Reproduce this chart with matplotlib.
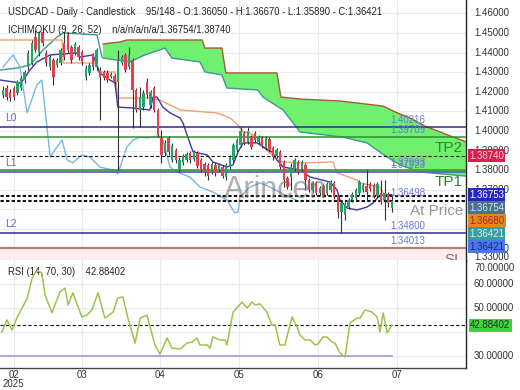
import numpy as np
import matplotlib
matplotlib.use('Agg')
import matplotlib.pyplot as plt
from matplotlib.transforms import blended_transform_factory, offset_copy

plt.rcParams['font.family'] = ['Liberation Sans', 'DejaVu Sans']

# ---------------- data ----------------
opens = [1.4184, 1.4219, 1.4199, 1.4219, 1.4194, 1.4219, 1.4260, 1.4326, 1.4347, 1.4479,
         1.4398, 1.4505, 1.4398, 1.4326, 1.4362, 1.4337, 1.4347, 1.4449, 1.4490, 1.4428,
         1.4398, 1.4428, 1.4403, 1.4275, 1.4296, 1.4388, 1.4326, 1.4311, 1.4301, 1.4296,
         1.4275, 1.4280, 1.4250, 1.4347, 1.4388, 1.4326, 1.4362, 1.4209, 1.4107, 1.4122,
         1.4250, 1.4133, 1.4219, 1.4107, 1.3964, 1.3888, 1.3964, 1.3852, 1.3903, 1.3801,
         1.3837, 1.3852, 1.3888, 1.3857, 1.3888, 1.3852, 1.3832, 1.3827, 1.3791, 1.3827,
         1.3801, 1.3816, 1.3765, 1.3816, 1.3852, 1.3903, 1.3929, 1.3990, 1.3944, 1.3969,
         1.3990, 1.3944, 1.3964, 1.3913, 1.3959, 1.3913, 1.3872, 1.3893, 1.3842, 1.3760,
         1.3765, 1.3806, 1.3842, 1.3806, 1.3827, 1.3750, 1.3699, 1.3735, 1.3684, 1.3719,
         1.3684, 1.3699, 1.3735, 1.3668, 1.3587, 1.3571, 1.3612, 1.3648, 1.3658, 1.3684,
         1.3699, 1.3719, 1.3730, 1.3725, 1.3668, 1.3684, 1.3648, 1.3679, 1.3605]
closes = [1.4209, 1.4173, 1.4168, 1.4173, 1.4250, 1.4270, 1.4301, 1.4398, 1.4449, 1.4413,
          1.4500, 1.4449, 1.4347, 1.4377, 1.4275, 1.4362, 1.4413, 1.4377, 1.4413, 1.4362,
          1.4444, 1.4377, 1.4352, 1.4321, 1.4337, 1.4326, 1.4413, 1.4275, 1.4270, 1.4260,
          1.4291, 1.4250, 1.4362, 1.4377, 1.4311, 1.4388, 1.4209, 1.4107, 1.4173, 1.4194,
          1.4184, 1.4199, 1.4107, 1.3980, 1.3878, 1.3939, 1.3893, 1.3923, 1.3852, 1.3852,
          1.3872, 1.3883, 1.3852, 1.3893, 1.3821, 1.3801, 1.3786, 1.3770, 1.3832, 1.3786,
          1.3827, 1.3770, 1.3827, 1.3867, 1.3929, 1.3954, 1.4000, 1.3939, 1.4000, 1.3918,
          1.3954, 1.3969, 1.3923, 1.3964, 1.3903, 1.3867, 1.3903, 1.3816, 1.3750, 1.3714,
          1.3816, 1.3852, 1.3791, 1.3842, 1.3750, 1.3699, 1.3735, 1.3684, 1.3709, 1.3674,
          1.3730, 1.3740, 1.3663, 1.3587, 1.3633, 1.3628, 1.3648, 1.3679, 1.3699, 1.3740,
          1.3725, 1.3689, 1.3704, 1.3668, 1.3730, 1.3638, 1.3684, 1.3633, 1.36421]
highs = [1.4229, 1.4235, 1.4214, 1.4229, 1.4260, 1.4280, 1.4311, 1.4413, 1.4464, 1.4515,
         1.4510, 1.4525, 1.4413, 1.4388, 1.4372, 1.4372, 1.4423, 1.4505, 1.4505, 1.4438,
         1.4454, 1.4438, 1.4413, 1.4337, 1.4347, 1.4398, 1.4423, 1.4326, 1.4311, 1.4311,
         1.4301, 1.4291, 1.4413, 1.4388, 1.4398, 1.4428, 1.4372, 1.4219, 1.4224, 1.4209,
         1.4270, 1.4209, 1.4229, 1.4117, 1.4005, 1.3954, 1.3974, 1.3939, 1.3913, 1.3867,
         1.3883, 1.3893, 1.3898, 1.3903, 1.3898, 1.3862, 1.3842, 1.3837, 1.3842, 1.3837,
         1.3837, 1.3827, 1.3837, 1.3878, 1.3939, 1.3964, 1.4020, 1.4000, 1.4020, 1.3980,
         1.4000, 1.3980, 1.3974, 1.3974, 1.3969, 1.3923, 1.3913, 1.3903, 1.3852, 1.3770,
         1.3837, 1.3862, 1.3852, 1.3852, 1.3837, 1.3760, 1.3745, 1.3745, 1.3719, 1.3730,
         1.3740, 1.3750, 1.3745, 1.3679, 1.3648, 1.3638, 1.3658, 1.3689, 1.3709, 1.3750,
         1.3735, 1.3801, 1.3740, 1.3735, 1.3740, 1.3750, 1.3750, 1.3689, 1.3667]
lows = [1.4168, 1.4158, 1.4153, 1.4158, 1.4184, 1.4209, 1.4245, 1.4311, 1.4337, 1.4403,
        1.4382, 1.4433, 1.4331, 1.4311, 1.4235, 1.4326, 1.4337, 1.4362, 1.4398, 1.4347,
        1.4388, 1.4362, 1.4337, 1.4260, 1.4286, 1.4311, 1.4311, 1.4056, 1.4260, 1.4250,
        1.4270, 1.4240, 1.3801, 1.4337, 1.4301, 1.4316, 1.4015, 1.4097, 1.4020, 1.4107,
        1.4168, 1.4117, 1.4097, 1.3969, 1.3837, 1.3872, 1.3878, 1.3842, 1.3837, 1.3791,
        1.3827, 1.3842, 1.3837, 1.3847, 1.3811, 1.3791, 1.3770, 1.3750, 1.3781, 1.3770,
        1.3791, 1.3760, 1.3750, 1.3806, 1.3842, 1.3893, 1.3918, 1.3929, 1.3934, 1.3908,
        1.3944, 1.3934, 1.3913, 1.3903, 1.3893, 1.3852, 1.3862, 1.3806, 1.3714, 1.3704,
        1.3699, 1.3796, 1.3781, 1.3796, 1.3699, 1.3689, 1.3689, 1.3674, 1.3674, 1.3663,
        1.3674, 1.3689, 1.3653, 1.3556, 1.3480, 1.3546, 1.3602, 1.3638, 1.3648, 1.3674,
        1.3689, 1.3648, 1.3694, 1.3658, 1.3658, 1.3628, 1.3546, 1.3612, 1.3589]

month_pos = [3, 22, 43.5, 65.5, 87.5, 109.5]
month_labels = ['02\n2025', '03', '04', '05', '06', '07']

tenkan_x = [-0.8, 4.7, 5.6, 7.5, 9.4, 13.1, 20.6, 21.4, 25, 26.9, 29.7, 31.1, 31.9, 36.1,
            40.8, 41.7, 42.8, 44.4, 46.4, 49.2, 50, 51.9, 52.8, 56.7, 58.3, 62.2, 63.9,
            65.3, 66.7, 70.6, 72.8, 74.7, 76.1, 77.8, 82.5, 85.3, 90.8, 92.8, 93.6, 95.6,
            98.3, 101.1, 102.8, 104.2, 105.6, 108]
tenkan_y = [1.4260, 1.4245, 1.4260, 1.4311, 1.4352, 1.4388, 1.4398, 1.4377, 1.4388, 1.4296,
            1.4260, 1.4245, 1.4122, 1.4117, 1.4107, 1.4173, 1.4173, 1.4122, 1.4092, 1.4066,
            1.4041, 1.3939, 1.3893, 1.3878, 1.3842, 1.3816, 1.3827, 1.3893, 1.3939, 1.3939,
            1.3913, 1.3893, 1.3852, 1.3816, 1.3801, 1.3765, 1.3740, 1.3699, 1.3648, 1.3607,
            1.3597, 1.3612, 1.3633, 1.3663, 1.3674, 1.36753]

kijun_x = [-0.8, 16.4, 16.7, 26.1, 26.4, 31.1, 31.9, 40.8, 43.6, 49.2, 59.4, 63.1, 65.3,
           66.7, 68.6, 70.6, 72.2, 74.2, 76.1, 77.8, 83.3, 91.7, 92.8, 94.4, 98.3, 99.2,
           104.7, 105.6, 108]
kijun_y = [1.4464, 1.4464, 1.4347, 1.4347, 1.4301, 1.4301, 1.4168, 1.4168, 1.4158, 1.4107,
           1.4092, 1.4066, 1.4030, 1.3995, 1.3990, 1.3964, 1.3918, 1.3888, 1.3852, 1.3842,
           1.3837, 1.3842, 1.3786, 1.3776, 1.3750, 1.3735, 1.3714, 1.3684, 1.3668]

chikou_x = [0, 2.8, 4.7, 6.7, 9.4, 10.8, 13.1, 14.4, 16.4, 17.8, 19.4, 21.9, 24.2, 26.9,
            30.6, 31.9, 34.4, 36.1, 38.1, 40, 42.8, 44.4, 46.4, 48.3, 51.9, 54.7, 58.3,
            62.2, 64.4, 65.3, 65.8, 68.6, 71.4, 74.2, 78.3, 82]
chikou_y = [1.4326, 1.4388, 1.4326, 1.4092, 1.4235, 1.4260, 1.3867, 1.3903, 1.3954, 1.3852,
            1.3837, 1.3878, 1.3867, 1.3816, 1.3801, 1.3781, 1.3918, 1.3954, 1.3969, 1.3964,
            1.3974, 1.3954, 1.3816, 1.3791, 1.3765, 1.3714, 1.3689, 1.3648, 1.3582, 1.3587,
            1.3663, 1.3714, 1.3735, 1.3714, 1.3674, 1.3642]

spanA_pre_x = [-0.8, 3.9, 7.5, 11.1, 15, 16.7, 26.1, 27.5]
spanA_pre_y = [1.4311, 1.4321, 1.4337, 1.4413, 1.4479, 1.4500, 1.4490, 1.4377]

spanB_x = [27.8, 32.5, 34.4, 55.3, 56.1, 60.8, 61.9, 76.1, 77.2, 82.5, 93.6, 105.6, 108.9,
           113.1, 117.2, 122.8, 128.6]
spanB_y = [1.4444, 1.4454, 1.4464, 1.4464, 1.4423, 1.4423, 1.4296, 1.4296, 1.4173, 1.4163,
           1.4153, 1.4127, 1.4097, 1.4066, 1.4025, 1.3985, 1.3944]
spanA_x = [27.8, 35.3, 39.4, 45, 46.9, 54.7, 56.1, 60.8, 62.2, 70.8, 72.2, 77.8, 81.7, 82.5,
           94.4, 101.1, 106.7, 110.3, 115.8, 128.6]
spanA_y = [1.4372, 1.4352, 1.4388, 1.4423, 1.4372, 1.4352, 1.4301, 1.4286, 1.4219, 1.4209,
           1.4173, 1.4107, 1.4015, 1.3995, 1.3969, 1.3939, 1.3867, 1.3827, 1.3791, 1.3770]

rsi_x = [-0.3, 1.1, 2.5, 3.9, 6.7, 8.1, 8.9, 9.8, 10.8, 11.7, 13.6, 15.8, 17.2, 18.1, 19.4,
         21.9, 23.3, 24.7, 26.4, 28.3, 30.6, 31.9, 33.3, 34.7, 36.7, 38.1, 40, 42.2, 43.6,
         45.6, 46.9, 49.2, 51.1, 52.5, 53.9, 54.7, 56.7, 57.5, 58.3, 60.3, 61.7, 62.2, 63.9,
         66.4, 67.8, 69.2, 70, 71.4, 73.3, 74.7, 75.6, 76.9, 78.3, 80.3, 81.7, 82.5, 83.9,
         85.3, 86.7, 87.5, 88.9, 90, 91.4, 92.2, 93.6, 95, 96.4, 98.3, 99.2, 100.6, 102.5,
         103.9, 104.7, 105.6, 106.7, 108]
rsi_y = [40, 45, 40.8, 46, 54, 62.5, 64.6, 65.4, 64.6, 55.4, 48, 56.7, 58.3, 51.3, 56.3,
         46.3, 47, 49.2, 56.3, 45.8, 48.3, 54.2, 54.6, 45.8, 35.4, 45.8, 47, 34.6, 30.8,
         37.5, 33.3, 32.9, 35.4, 35.8, 37.5, 34.6, 34.6, 33.3, 37.9, 36.7, 36.7, 34.6, 48.3,
         52.5, 50, 52.5, 51.3, 51.7, 48.3, 42.9, 42.9, 34.6, 34.6, 46.3, 42, 38.75, 36.7,
         36.7, 34.6, 35, 37.9, 37.9, 35.8, 35.4, 31.25, 29.6, 43.75, 45.8, 45.8, 49.2, 48.3,
         46.3, 40, 47.9, 39.6, 42.88]
rsi_last = 42.88402

level_L0 = 1.40216
level_TP2 = 1.39709
level_TP1 = 1.37993
level_L1 = 1.37923
level_at = 1.36498
level_L2 = 1.34800
level_SL = 1.34013

box_values = [1.36753, 1.36754, 1.36680, 1.36421, 1.36421]
box_bg = ['#2626c8', '#4f6f8f', '#e08a1c', '#3a9c9c', '#4a78e6']
box_fg = ['#ffffff', '#cfe6f5', '#b02020', '#d8f4f4', '#1a2a8a']
spanB_now = 1.38740

price_ticks = [1.46, 1.45, 1.44, 1.43, 1.42, 1.41, 1.40, 1.39, 1.38, 1.37, 1.36, 1.35, 1.34]
price_tick_labels = [1.46, 1.45, 1.44, 1.43, 1.42, 1.41, 1.40, 1.39, 1.38, 1.37, 1.34]

# ---------------- figure ----------------
W, H = 520, 390
fig = plt.figure(figsize=(W / 100, H / 100), dpi=100)
fig.patch.set_facecolor('white')

def ax_rect(l, t, r, b):
    return [l / W, 1 - b / H, (r - l) / W, (b - t) / H]

ax = fig.add_axes(ax_rect(0, 0, 466, 261))
rax = fig.add_axes(ax_rect(0, 260, 466, 368), sharex=ax)

px_per_bar = 3.6
x0 = -3 / px_per_bar
x1 = (466 - 3) / px_per_bar
ax.set_xlim(x0, x1)
ymax = 1.4668
ymin = ymax - 261 * 0.00051
ax.set_ylim(ymin, ymax)
rax.set_ylim(25, 70)

grid_c = '#e9e9ee'
for a in (ax, rax):
    a.set_facecolor('white')
    for sp in ('left', 'top'):
        a.spines[sp].set_visible(False)
    a.spines['right'].set_color('#222222')
    a.spines['bottom'].set_color('#444444')
    a.spines['right'].set_linewidth(1.0)
    a.spines['bottom'].set_linewidth(1.0)
    a.tick_params(length=0)
    a.set_xticks(month_pos)
    for mp in month_pos:
        a.axvline(mp, color=grid_c, lw=0.8, zorder=0)

ax.set_yticks(price_ticks)
for p in price_ticks:
    ax.axhline(p, color=grid_c, lw=0.8, zorder=0)
ax.set_yticklabels([])
ax.tick_params(labelbottom=False)
ax.yaxis.tick_right()

# right axis labels (drawn as text)
tr_main = blended_transform_factory(ax.transAxes, ax.transData)
for p in price_tick_labels:
    ax.text(1.0 + 8 / 466, p, f'{p:.5f}', transform=tr_main, fontsize=7, color='#333333',
            va='center', ha='left', clip_on=False)
ax.text(1.0 + 8 / 466, 0.015, '1.33000', transform=ax.transAxes, fontsize=7,
        color='#333333', va='center', ha='left', clip_on=False)

# SL zone
ax.axhspan(ymin, level_SL, color='#fdebee', zorder=0.5, lw=0)

# cloud
ax.plot(spanA_pre_x, spanA_pre_y, color='#3a9a8a', lw=1.0, zorder=2)
cx = list(spanB_x) + list(spanA_x[::-1])
cy = list(spanB_y) + list(spanA_y[::-1])
ax.fill(cx, cy, color='#6ff06f', lw=0, zorder=1)
ax.plot(spanB_x, spanB_y, color='#a8583a', lw=1.0, zorder=2)
ax.plot(spanA_x, spanA_y, color='#3a9a8a', lw=1.0, zorder=2)

# indicator lines
ax.plot(chikou_x, chikou_y, color='#78b8e0', lw=1.0, zorder=3)
ax.plot(kijun_x, kijun_y, color='#f0a070', lw=1.0, zorder=3)
ax.plot(tenkan_x, tenkan_y, color='#3a3aa0', lw=1.0, zorder=3)

# level lines
ax.axhline(level_L0, color='#2e2e8a', lw=1.1, zorder=4)
ax.axhline(level_TP2, color='#2f8f2f', lw=1.1, zorder=4)
ax.axhline(spanB_now, color='#111111', lw=0.8, ls=(0, (3, 2)), zorder=4)
ax.axhline(level_TP1, color='#3f9f3f', lw=1.3, zorder=4)
ax.axhline(level_L1, color='#5a64b4', lw=1.3, zorder=4)
for v in [box_values[1], box_values[2], level_at, box_values[3]]:
    ax.axhline(v, color='#111111', lw=0.8, ls=(0, (3, 2)), zorder=4)
ax.axhline(level_L2, color='#2e2e8a', lw=1.1, zorder=4)
ax.axhline(level_SL, color='#b08070', lw=1.6, zorder=4)

# candles
xs = np.arange(len(opens))
o = np.array(opens); c = np.array(closes); h = np.array(highs); l = np.array(lows)
up = c >= o
ax.vlines(xs, l, h, color='#333333', lw=0.8, zorder=5)
bw = 0.62
ax.bar(xs[up], (c - o)[up], bottom=o[up], width=bw, color='#26a26a', lw=0, zorder=6)
ax.bar(xs[~up], (c - o)[~up], bottom=o[~up], width=bw, color='#e2404e', lw=0, zorder=6)

# level labels
lab_c = '#6a78d8'
lx = 390 / 466
for v, s in [(level_L0, '1.40216'), (level_TP2, '1.39709'), (level_TP1, '1.37993'),
             (level_L1, '1.37923'), (level_at, '1.36498'), (level_L2, '1.34800'),
             (level_SL, '1.34013')]:
    t = offset_copy(tr_main, fig=fig, x=0, y=1.5, units='points')
    ax.text(lx, v, s, transform=t, fontsize=7, color=lab_c, ha='left', va='bottom', zorder=7)

for v, s in [(level_L0, 'L0'), (level_L1, 'L1'), (level_L2, 'L2')]:
    t = offset_copy(tr_main, fig=fig, x=0, y=3, units='points')
    ax.text(5 / 466, v, s, transform=t, fontsize=7.5, color='#6a6ac0', ha='left',
            va='bottom', zorder=7)

for v, s, col in [(level_TP2, 'TP2', '#2a8a2a'), (level_TP1, 'TP1', '#2a8a2a'),
                  (level_at, 'At Price', '#9a9a9a'), (level_SL, 'SL', '#8a7070')]:
    t = offset_copy(tr_main, fig=fig, x=0, y=-3, units='points')
    ax.text(463 / 466, v, s, transform=t, fontsize=11, color=col, ha='right', va='top',
            zorder=7, clip_on=True)

# watermark
ax.text(276 / 466, 1 - 190 / 261, 'Arincen', transform=ax.transAxes, fontsize=22,
        color='#6e6e6e', alpha=0.55, ha='center', va='center', zorder=8)

# header text
ax.text(8 / 466, 1 - 12 / 261,
        'USDCAD - Daily - Candlestick    95/148 - O:1.36050 - H:1.36670 - L:1.35890 - C:1.36421',
        transform=ax.transAxes, fontsize=6.85, color='#222222', ha='left', va='center', zorder=9)
ax.text(8 / 466, 1 - 30 / 261, 'ICHIMOKU (9, 26, 52)    n/a/n/a/n/a/1.36754/1.38740',
        transform=ax.transAxes, fontsize=6.85, color='#222222', ha='left', va='center', zorder=9)

# right-side value boxes
bx = 1.0 + 3 / 466
ax.text(bx, spanB_now, f'{spanB_now:.5f}', transform=tr_main, fontsize=7, color='#ffd0dc',
        ha='left', va='center', zorder=10, clip_on=False,
        bbox=dict(boxstyle='square,pad=0.15', fc='#d3204c', ec='none'))
for k, (v, bg, fg) in enumerate(zip(box_values, box_bg, box_fg)):
    t = offset_copy(tr_main, fig=fig, x=0, y=-13 * k * 0.72, units='points')
    ax.text(bx, box_values[0], f'{v:.5f}', transform=t, fontsize=7, color=fg,
            ha='left', va='center', zorder=10, clip_on=False,
            bbox=dict(boxstyle='square,pad=0.15', fc=bg, ec='none'))

# ---------------- RSI ----------------
rax.set_yticks([30, 40, 50, 60])
for v in [30, 40, 50, 60]:
    rax.axhline(v, color=grid_c, lw=0.8, zorder=0)
rax.set_yticklabels([])
rax.yaxis.tick_right()
tr_r = blended_transform_factory(rax.transAxes, rax.transData)
for v in [30, 50, 60]:
    rax.text(1.0 + 8 / 466, v, f'{v:.5f}', transform=tr_r, fontsize=7, color='#333333',
             va='center', ha='left', clip_on=False)
rax.text(1.0 + 8 / 466, 66.7, '70.00000', transform=tr_r, fontsize=7, color='#333333',
         va='center', ha='left', clip_on=False)

rax.plot([x0, 108], [30, 30], color='#a88ad8', lw=1.1, zorder=2)
rax.axhline(rsi_last, color='#111111', lw=0.8, ls=(0, (3, 2)), zorder=3)
rax.plot(rsi_x, rsi_y, color='#9cc44c', lw=1.1, zorder=4)
rax.text(8 / 466, 1 - 12 / 108, f'RSI (14, 70, 30)    {rsi_last:.5f}', transform=rax.transAxes,
         fontsize=6.85, color='#222222', ha='left', va='center')
rax.text(1.0 + 4 / 466, rsi_last, f'{rsi_last:.5f}', transform=tr_r, fontsize=7,
         color='#1a3a1a', ha='left', va='center', zorder=10, clip_on=False,
         bbox=dict(boxstyle='square,pad=0.15', fc='#3ed23e', ec='none'))

rax.set_xticks(month_pos)
rax.set_xticklabels(month_labels, fontsize=7, color='#333333', linespacing=0.9)
rax.tick_params(axis='x', pad=1.5)

fig.savefig('out.png', dpi=100)
